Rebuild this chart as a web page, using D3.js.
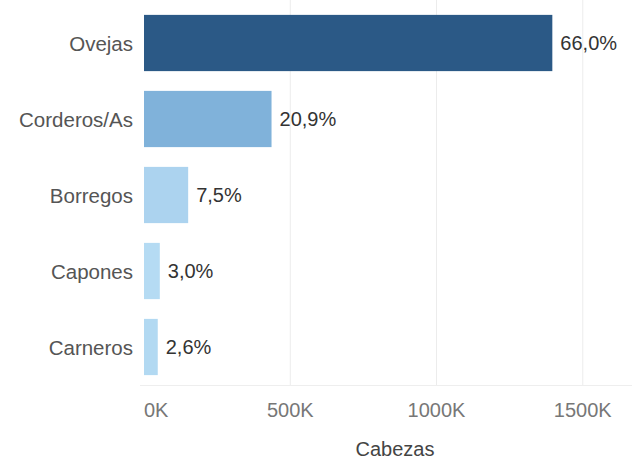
<!DOCTYPE html>
<html>
<head>
<meta charset="utf-8">
<script src="https://cdn.jsdelivr.net/npm/d3@7"></script>
<style>
  body { margin: 0; background: #fff; }
  svg text { font-family: "Liberation Sans", Arial, sans-serif; }
</style>
</head>
<body>
<div id="chart"></div>
<script>
// data
const categories = ["Ovejas", "Corderos/As", "Borregos", "Capones", "Carneros"];
const cabezas = [1396000, 436000, 151000, 54000, 47000];
const shareLabels = ["66,0%", "20,9%", "7,5%", "3,0%", "2,6%"];
const barColors = ["#2b5986", "#80b2da", "#acd3ef", "#b5dbf3", "#b2d9f2"];
const xTicks = [0, 500000, 1000000, 1500000];
const xTickLabels = ["0K", "500K", "1000K", "1500K"];
const axisTitle = "Cabezas";

const drawBars = () => {
  const width = 632;
  const height = 462;
  const left = 144, right = 612, top = 5, bottom = 385;

  const svg = d3.select('#chart')
    .append('svg')
    .attr('width', width)
    .attr('height', height);

  const x = d3.scaleLinear()
    .domain([0, 1600000])
    .range([left, right]);

  const y = d3.scaleBand()
    .domain(categories)
    .range([top, bottom])
    .paddingInner(0.26)
    .paddingOuter(0.13);

  const rows = categories.map((c, i) => ({
    cat: c, value: cabezas[i], label: shareLabels[i], color: barColors[i]
  }));

  // gridlines
  svg.append('g')
    .selectAll('line')
    .data(xTicks.slice(1))
    .enter()
    .append('line')
    .attr('x1', d => x(d))
    .attr('x2', d => x(d))
    .attr('y1', 0)
    .attr('y2', bottom)
    .attr('stroke', '#ececec')
    .attr('stroke-width', 1);

  // bottom rule
  svg.append('line')
    .attr('x1', left - 4)
    .attr('x2', width)
    .attr('y1', bottom + 0.5)
    .attr('y2', bottom + 0.5)
    .attr('stroke', '#eeeeee');

  // bars
  svg.selectAll('rect.bar')
    .data(rows)
    .enter()
    .append('rect')
    .attr('class', 'bar')
    .attr('x', x(0))
    .attr('y', d => y(d.cat))
    .attr('width', d => x(d.value) - x(0))
    .attr('height', y.bandwidth())
    .attr('fill', d => d.color);

  // value labels
  svg.selectAll('text.val')
    .data(rows)
    .enter()
    .append('text')
    .attr('class', 'val')
    .attr('x', d => x(d.value) + 8)
    .attr('y', d => y(d.cat) + y.bandwidth() / 2)
    .attr('dominant-baseline', 'central')
    .attr('font-size', '20px')
    .attr('fill', '#333')
    .text(d => d.label);

  // category labels
  svg.selectAll('text.cat')
    .data(rows)
    .enter()
    .append('text')
    .attr('class', 'cat')
    .attr('x', left - 11)
    .attr('y', d => y(d.cat) + y.bandwidth() / 2)
    .attr('text-anchor', 'end')
    .attr('dominant-baseline', 'central')
    .attr('font-size', '20.5px')
    .attr('fill', '#555')
    .text(d => d.cat);

  // x tick labels
  svg.selectAll('text.tick')
    .data(xTicks)
    .enter()
    .append('text')
    .attr('class', 'tick')
    .attr('x', d => x(d))
    .attr('y', 410)
    .attr('text-anchor', d => d === 0 ? 'start' : 'middle')
    .attr('dominant-baseline', 'central')
    .attr('font-size', '20px')
    .attr('fill', '#777')
    .text((d, i) => xTickLabels[i]);

  svg.append('text')
    .attr('x', 395)
    .attr('y', 449)
    .attr('text-anchor', 'middle')
    .attr('dominant-baseline', 'central')
    .attr('font-size', '20px')
    .attr('fill', '#444')
    .text(axisTitle);
};

drawBars();
</script>
</body>
</html>
